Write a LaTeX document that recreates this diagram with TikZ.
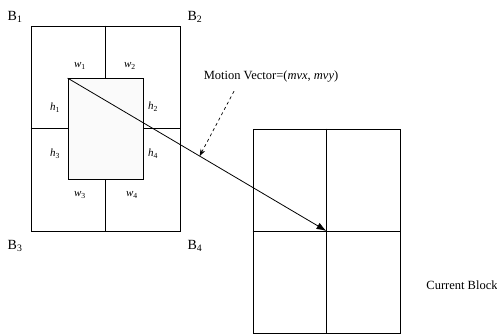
\documentclass[tikz,border=0pt]{standalone}
\usepackage{fontspec}
\setmainfont{Liberation Serif}
\usetikzlibrary{positioning,calc,arrows.meta}

\begin{document}
\begin{tikzpicture}[x=1pt, y=-1pt,
          blk/.style={rectangle, draw=black, line width=0.8pt, inner sep=0pt},
          part/.style={draw=black, line width=0.8pt},
          blabel/.style={font=\fontsize{14}{16}\selectfont, inner sep=2pt},
          slabel/.style={font=\fontsize{11}{12}\selectfont, inner sep=1pt},
          txt/.style={font=\fontsize{12.5}{14}\selectfont},
          mv/.style={-{Latex[length=10pt,width=7pt]}, line width=0.8pt},
          hint/.style={-{Stealth[length=7pt,width=5pt]}, dashed, line width=0.7pt}
        ]
        \useasboundingbox (0,0) rectangle (497,335);
        % reference area with four blocks
        \node[blk, minimum width=149pt, minimum height=205pt] (ref) at (105.5,128.5) {};
        \node[blk, fill=gray!4, minimum width=75pt, minimum height=101pt] (inner) at (105.5,129) {};
        \draw[part] (ref.north) -- (inner.north -| ref.north);
        \draw[part] (inner.south -| ref.south) -- (ref.south);
        \draw[part] (ref.west) -- (inner.west |- ref.west);
        \draw[part] (inner.east |- ref.east) -- (ref.east);
        \node[blabel, above left=1pt and 6pt of ref.north west]  (b1) {B\textsubscript{1}};
        \node[blabel, above right=1pt and 5pt of ref.north east] (b2) {B\textsubscript{2}};
        \node[blabel, below left=7pt and 6pt of ref.south west]  (b3) {B\textsubscript{3}};
        \node[blabel, below right=7pt and 5pt of ref.south east] (b4) {B\textsubscript{4}};
        \node[slabel] (w1) at (80,66)  {\textit{w}\textsubscript{1}};
        \node[slabel] (w2) at (130,66) {\textit{w}\textsubscript{2}};
        \node[slabel] (h1) at (55,108) {\textit{h}\textsubscript{1}};
        \node[slabel] (h2) at (153,107) {\textit{h}\textsubscript{2}};
        \node[slabel] (h3) at (55,154) {\textit{h}\textsubscript{3}};
        \node[slabel] (h4) at (153,154) {\textit{h}\textsubscript{4}};
        \node[slabel] (w3) at (80,195) {\textit{w}\textsubscript{3}};
        \node[slabel] (w4) at (132,195) {\textit{w}\textsubscript{4}};
        % current block
        \node[blk, minimum width=147pt, minimum height=204pt] (cur) at (326.5,231) {};
        \draw[part] (cur.north) -- (cur.south);
        \draw[part] (cur.west) -- (cur.east);
        \node[txt] (curlbl) at (462,285) {Current Block};
        % motion vector
        \draw[mv] (inner.north west) -- (cur.center);
        \node[txt] (mvlbl) at (271,77) {Motion Vector=(\textit{mvx}, \textit{mvy})};
        \coordinate (hit) at ($(inner.north west)!0.51!(cur.center)$);
        \draw[hint] ($(mvlbl.south)+(-37,5)$) -- (hit);
      \end{tikzpicture}
\end{document}
